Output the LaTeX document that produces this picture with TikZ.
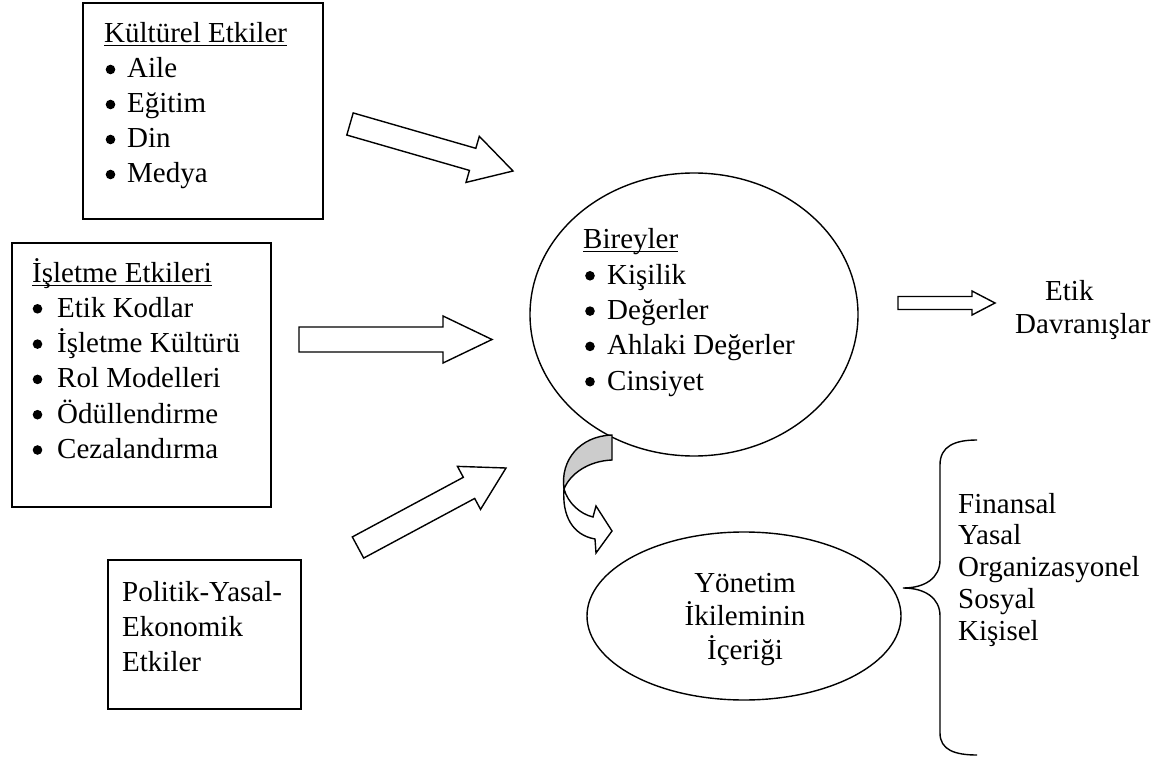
\documentclass[tikz,border=0pt]{standalone}
\usepackage{fontspec}
\setmainfont{Liberation Serif}
\usetikzlibrary{calc,shapes.geometric}

\tikzset{
  box/.style={draw, line width=1.6pt, rectangle, inner sep=0pt},
  oval/.style={draw, line width=1.4pt, ellipse, inner sep=0pt},
  txt/.style={anchor=base west, inner sep=0pt, font=\fontsize{29}{35}\selectfont},
  ctxt/.style={anchor=base, inner sep=0pt, font=\fontsize{29}{35}\selectfont},
  fat/.style={draw, line width=1.4pt, fill=white, line join=miter},
  uline/.style={line width=1.4pt},
}

% block arrow: #1 tail, #2 tip, #3 half shaft width, #4 half head width, #5 head length
\newcommand\fatarrow[5]{%
  \coordinate (fa-h) at ($(#2)!#5!(#1)$);
  \draw[fat] ($(#1)!#3!90:(#2)$) -- ($(fa-h)!#3!-90:(#1)$) -- ($(fa-h)!#4!-90:(#1)$)
    -- (#2) -- ($(fa-h)!#4!90:(#1)$) -- ($(fa-h)!#3!90:(#1)$) -- ($(#1)!#3!-90:(#2)$) -- cycle;}

% round list bullet placed left of an item node: #1 node, #2 gap to the text
\newcommand\listdot[2]{\fill ([xshift=-#2, yshift=8.5pt]#1.base west) circle (4.8pt);}

\begin{document}
\begin{tikzpicture}[x=1pt,y=-1pt]
\useasboundingbox (0,0) rectangle (1173,762);
\fill[white] (0,0) rectangle (1173,762);

% ---- influence boxes ----
\node[box, minimum width=240pt, minimum height=216pt] (kultur) at (203,111) {};
\node[txt] (kul-h) at (104,43) {Kültürel Etkiler};
\draw[uline] ([yshift=-2.5pt]kul-h.base west) -- ([yshift=-2.5pt]kul-h.base east);
\foreach \t [count=\i] in {Aile, Eğitim, Din, Medya}{
  \node[txt] (kul-\i) at (127, 43+35*\i) {\t};
  \listdot{kul-\i}{16.5pt}}

\node[box, minimum width=259pt, minimum height=264pt] (isletme) at (141.5,375) {};
\node[txt] (isl-h) at (32,283) {İşletme Etkileri};
\draw[uline] ([yshift=-2.5pt]isl-h.base west) -- ([yshift=-2.5pt]isl-h.base east);
\foreach \t [count=\i] in {Etik Kodlar, İşletme Kültürü, Rol Modelleri, Ödüllendirme, Cezalandırma}{
  \node[txt] (isl-\i) at (57, 282+35.3*\i) {\t};
  \listdot{isl-\i}{19.5pt}}

\node[box, minimum width=193pt, minimum height=149pt] (politik) at (204.5,634.5) {};
\foreach \t [count=\i] in {Politik-Yasal-, Ekonomik, Etkiler}
  \node[txt] (pol-\i) at (122, 566+35*\i) {\t};

% ---- individuals ----
\node[oval, minimum width=328pt, minimum height=283pt] (birey) at (694,314.5) {};
\node[txt] (bir-h) at (583,249) {Bireyler};
\draw[uline] ([yshift=-2.5pt]bir-h.base west) -- ([yshift=-2.5pt]bir-h.base east);
\foreach \t [count=\i] in {Kişilik, Değerler, Ahlaki Değerler, Cinsiyet}{
  \node[txt] (bir-\i) at (607, 249+35.3*\i) {\t};
  \listdot{bir-\i}{17pt}}

% ---- management dilemma ----
\node[oval, minimum width=314pt, minimum height=168pt] (yonetim) at (744,616) {};
\foreach \t [count=\i] in {Yönetim, İkileminin, İçeriği}
  \node[ctxt] (yon-\i) at (745, 558.5+33.5*\i) {\t};

% ---- ethical behaviour ----
\node[txt] (etik-1) at (1045,301) {Etik};
\node[txt] (etik-2) at (1015,333) {Davranışlar};

% ---- dimensions with brace ----
\draw[line width=1.4pt] (977,440) .. controls (955,440) and (940,446) .. (940,465)
  -- (940,560) .. controls (940,578) and (925,588) .. (903,588)
  .. controls (925,588) and (940,598) .. (940,616)
  -- (940,733) .. controls (940,750) and (955,755) .. (977,755);
\foreach \t [count=\i] in {Finansal, Yasal, Organizasyonel, Sosyal, Kişisel}
  \node[txt] (boy-\i) at (958, 481.25+31.75*\i) {\t};

% ---- block arrows ----
\coordinate (a1s) at (350,124);   \coordinate (a1e) at (513,171);
\coordinate (a2s) at (299,339.5); \coordinate (a2e) at (492,339.5);
\coordinate (a3s) at (358,547.5); \coordinate (a3e) at (506,468);
\coordinate (a4s) at (898,303);   \coordinate (a4e) at (995,303);
\fatarrow{a1s}{a1e}{11.5pt}{24pt}{42pt}
\fatarrow{a2s}{a2e}{12.5pt}{23.5pt}{49pt}
\fatarrow{a3s}{a3e}{12pt}{24.4pt}{42pt}
\fatarrow{a4s}{a4e}{6.5pt}{12pt}{23pt}

% ---- curved arrow from individuals to dilemma ----
\draw[line width=1.4pt, fill=white, line join=miter]
  (564,489) .. controls (562,515) and (572,535) .. (595,539)
  -- (596,553) -- (612,531) -- (596,506) -- (593,517)
  .. controls (580,514) and (568,503) .. (564,489) -- cycle;
\draw[line width=1.4pt, fill=gray!40, line join=miter]
  (612,435) -- (612,460) .. controls (588,461) and (570,474) .. (564,489)
  .. controls (560,460) and (580,436) .. (612,435) -- cycle;
\end{tikzpicture}
\end{document}
